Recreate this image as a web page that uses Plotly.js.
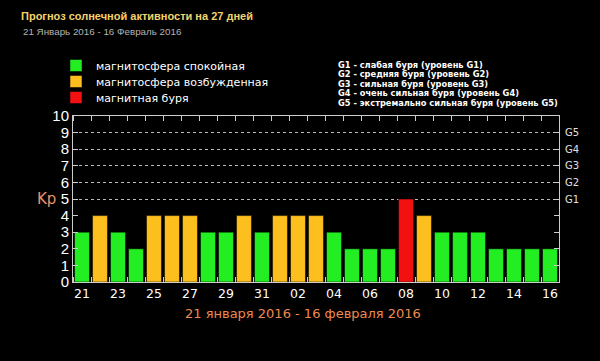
<!DOCTYPE html>
<html>
<head>
<meta charset="utf-8">
<script src="https://cdn.plot.ly/plotly-3.0.1.min.js"></script>
<style>
html,body{margin:0;padding:0;background:#000;}
#chart{width:600px;height:361px;}
</style>
</head>
<body>
<div id="chart"></div>
<script>
// ---- data ----
const days = ['21','22','23','24','25','26','27','28','29','30','31','01','02','03','04','05','06','07','08','09','10','11','12','13','14','15','16'];
const kp   = [3,4,3,2,4,4,4,3,3,4,3,4,4,4,3,2,2,2,5,4,3,3,3,2,2,2,2];
const legendNames = ['магнитосфера спокойная','магнитосфера возбужденная','магнитная буря'];
const legendColors = ['#22ee22','#fdbf1d','#f21010'];
const gLevels = [5,6,7,8,9];
const gLabels = ['G1','G2','G3','G4','G5'];
const gDescriptions = [
  'G1 - слабая буря (уровень G1)',
  'G2 - средняя буря (уровень G2)',
  'G3 - сильная буря (уровень G3)',
  'G4 - очень сильная буря (уровень G4)',
  'G5 - экстремально сильная буря (уровень G5)'
];
const titleText = 'Прогноз солнечной активности на 27 дней';
const subtitleText = '21 Январь 2016 - 16 Февраль 2016';
const xTitleText = '21 января 2016 - 16 февраля 2016';

// ---- layout helpers (pixel geometry of plot area) ----
const W = 600, H = 361;
const L = 73, R = 559, T = 116, B = 282;
const pw = R - L, ph = B - T;
const px = x => (x - L) / pw;
const py = y => (B - y) / ph;

// classify each day
function cls(v){ return v >= 5 ? 2 : (v >= 4 ? 1 : 0); }
const idx = days.map((d,i)=>i);
const legendIds = ['legend','legend2','legend3'];

const traces = legendNames.map((name, c) => ({
  type: 'bar',
  name: name,
  legend: legendIds[c],
  x: idx,
  y: kp.map(v => cls(v) === c ? v : null),
  width: 0.83,
  marker: {color: legendColors[c], line: {color: '#000', width: 0.5}},
  hoverinfo: 'skip'
}));
// helper trace to activate the right-hand G axis
traces.push({type:'scatter', x:[], y:[], yaxis:'y2', showlegend:false, hoverinfo:'skip'});

const annotations = [
  {text: subtitleText, xref:'paper', yref:'paper', x: px(21), y: py(32), xanchor:'left', yanchor:'middle',
   showarrow:false, font:{family:'Liberation Sans, Arial', size:9.8, color:'#b4b4b4'}},
  {text: 'Kp', xref:'paper', yref:'paper', x: px(46), y: py(199), xanchor:'center', yanchor:'middle',
   showarrow:false, font:{family:'DejaVu Sans', size:15, color:'#e8946a'}},
  {text: xTitleText, xref:'paper', yref:'paper', x: px(303), y: py(313), xanchor:'center', yanchor:'middle',
   showarrow:false, font:{family:'DejaVu Sans', size:13, color:'#ef8a4e'}}
];
gDescriptions.forEach((t,i) => annotations.push({
  text: t, xref:'paper', yref:'paper', x: px(336), y: py(64 + i*9.6), xanchor:'left', yanchor:'middle',
  showarrow:false, font:{family:'DejaVu Sans Condensed, DejaVu Sans', size:9.2, color:'#ffffff', weight:'bold'}
}));

const layout = {
  width: W, height: H,
  paper_bgcolor: '#000', plot_bgcolor: '#000',
  margin: {l: L, r: W - R, t: T, b: H - B, pad: 0},
  title: {text: '<b>' + titleText + '</b>', x: 21/W, xanchor:'left', xref:'container',
          y: 1 - 16/H, yanchor:'middle', yref:'container',
          font:{family:'Liberation Sans, Arial', size:11, color:'#f2d36b'}},
  barmode: 'overlay',
  showlegend: true,
  xaxis: {
    range: [-0.5, days.length - 0.5],
    tickmode: 'array',
    tickvals: idx.filter(i => i % 2 === 0),
    ticktext: days.filter((d,i) => i % 2 === 0),
    ticks: '',
    minor: {tick0: 0.5, dtick: 1, ticks: 'inside', ticklen: 5, tickcolor: '#cccccc', showgrid:false},
    showline: true, linecolor: '#cccccc', linewidth: 1, mirror: 'allticks',
    showgrid: false, zeroline: false,
    tickfont: {family:'DejaVu Sans', size:12.5, color:'#ffffff'},
    fixedrange: true
  },
  yaxis: {
    range: [0, 10],
    tickmode: 'array',
    tickvals: [0,1,2,3,4,5,6,7,8,9,10],
    ticks: 'inside', ticklen: 5, tickcolor: '#cccccc',
    showline: true, linecolor: '#cccccc', linewidth: 1, mirror: 'allticks',
    showgrid: false, zeroline: false,
    tickfont: {family:'Liberation Sans, Arial', size:15, color:'#ffffff'},
    fixedrange: true
  },
  yaxis2: {
    overlaying: 'y', side: 'right', range: [0, 10],
    tickmode: 'array', tickvals: gLevels, ticktext: gLabels,
    ticks: '', showline: false, zeroline: false, ticklabelstandoff: 5,
    showgrid: true, gridcolor: '#bbbbbb', gridwidth: 1, griddash: 'dot',
    tickfont: {family:'DejaVu Sans', size:10, color:'#e0e0e0'},
    fixedrange: true
  },
  annotations: annotations
};
legendIds.forEach((id, c) => {
  layout[id] = {x: px(56), y: py(66 + c*16 - 15), xanchor:'left', yanchor:'top', bgcolor:'rgba(0,0,0,0)',
                font:{family:'DejaVu Sans', size:11, color:'#ffffff'}, itemwidth:30};
});

Plotly.newPlot('chart', traces, layout, {displayModeBar:false, staticPlot:true});
</script>
</body>
</html>
